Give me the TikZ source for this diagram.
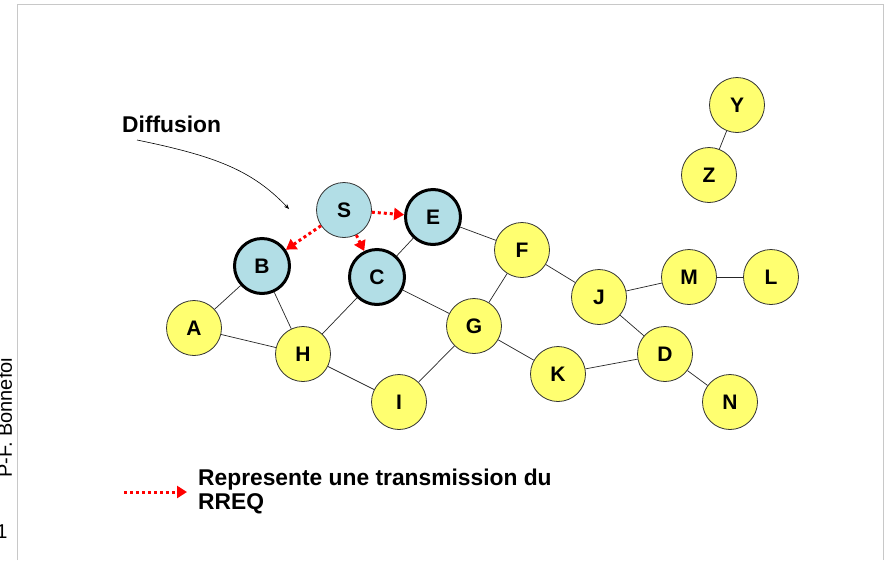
\documentclass[tikz,border=0pt]{standalone}
\usepackage{fontspec}
\setmainfont{Liberation Sans}
\usetikzlibrary{arrows.meta}
\definecolor{nodeyellow}{RGB}{255,255,112}
\definecolor{nodeblue}{RGB}{178,222,230}
\definecolor{framegray}{RGB}{200,200,200}
\begin{document}
\begin{tikzpicture}[x=1pt,y=-1pt,
  yel/.style={circle,draw=black!80,line width=0.8pt,fill=nodeyellow,minimum size=55pt,inner sep=0pt,font=\fontsize{21}{24}\selectfont\bfseries},
  blu/.style={yel,fill=nodeblue},
  visited/.style={blu,line width=3pt,draw=black},
  link/.style={draw=black!85,line width=0.7pt},
  rreq/.style={draw=red,line width=3pt,dash pattern=on 3pt off 3pt,-{Triangle[length=10pt,width=12pt]}},
  bigtext/.style={inner sep=0pt,font=\fontsize{22.8}{24}\selectfont\bfseries},
  sidetext/.style={inner sep=0pt,font=\fontsize{20}{24}\selectfont}
]
\useasboundingbox (0,0) rectangle (885,560);
\fill[white] (0,0) rectangle (885,560);
% frame
\draw[framegray,line width=1pt] (17.5,560) -- (17.5,4) -- (883,4) -- (883,560);
% side texts
\node[sidetext,rotate=90,anchor=base west] (author) at (12,478) {P-F. Bonnefoi};
\node[sidetext,anchor=base] (page) at (2,538) {1};

% nodes
\node[blu] (S) at (344,210) {S};
\node[visited] (E) at (433,217) {E};
\node[visited] (B) at (262,266) {B};
\node[visited] (C) at (377,277) {C};
\node[yel] (F) at (522,250) {F};
\node[yel] (J) at (599,297) {J};
\node[yel] (M) at (689,277) {M};
\node[yel] (L) at (771,277) {L};
\node[yel] (Y) at (737,105) {Y};
\node[yel] (Z) at (709,175) {Z};
\node[yel] (A) at (194,328) {A};
\node[yel] (H) at (303,354) {H};
\node[yel] (G) at (474,326) {G};
\node[yel] (K) at (558,374) {K};
\node[yel] (D) at (665,354) {D};
\node[yel] (N) at (730,402) {N};
\node[yel] (I) at (399,402) {I};

% links
\foreach \a/\b in {Y/Z,A/B,A/H,B/H,H/C,H/I,I/G,C/G,C/E,E/F,F/G,F/J,J/M,M/L,J/D,G/K,K/D,D/N}
  \draw[link] (\a) -- (\b);

% RREQ transmissions
\draw[rreq] (S) -- (E);
\draw[rreq] (S) -- (B);
\draw[rreq] (S) -- (C);

% Diffusion label
\node[bigtext,anchor=base west] (diff) at (122,132) {Diffusion};
\coordinate (dstart) at (137,140);
\coordinate (dend) at (289,209);
\draw[line width=0.6pt,-{Stealth[length=5pt,width=4pt]}] (dstart) .. controls (215,156) and (252,170) .. (dend);

% legend
\coordinate (lg1) at (124,492);
\coordinate (lg2) at (187,492);
\draw[rreq] (lg1) -- (lg2);
\node[bigtext,anchor=north west,align=left] (legend) at (198,469) {Represente une transmission du\\RREQ};
\end{tikzpicture}
\end{document}
